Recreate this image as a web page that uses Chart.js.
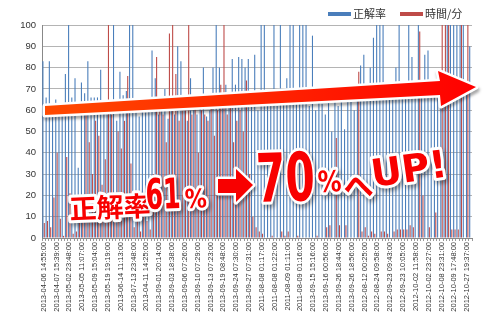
<!DOCTYPE html>
<html>
<head>
<meta charset="utf-8">
<script src="https://cdn.jsdelivr.net/npm/chart.js"></script>
<style>
  html, body { margin: 0; padding: 0; background: #fff; }
</style>
</head>
<body>
<canvas id="chart" width="483" height="325"></canvas>
<script>
// tick labels shown on the x axis (one every 4 categories)
var tickLabels = [
  "2013-04-06 14:55:00", "2013-04-07 15:39:00", "2013-05-02 23:48:00", "2013-05-05 11:07:00",
  "2013-05-09 15:04:00", "2013-05-19 19:19:00", "2013-06-14 11:13:00", "2013-07-13 23:48:00",
  "2013-04-11 14:25:00", "2013-09-01 20:14:00", "2013-09-03 18:38:00", "2013-09-06 07:26:00",
  "2013-09-10 07:29:00", "2013-09-13 07:23:00", "2013-09-19 08:48:00", "2013-09-24 07:30:00",
  "2013-09-27 07:31:00", "2011-08-08 01:17:00", "2011-08-08 01:22:00", "2011-08-09 01:11:00",
  "2011-08-09 01:16:00", "2013-09-15 15:16:00", "2013-09-16 00:56:00", "2013-09-26 18:44:00",
  "2013-09-26 18:56:00", "2012-08-12 00:25:00", "2012-08-24 09:58:00", "2012-09-23 09:43:00",
  "2012-09-23 10:05:00", "2012-10-02 11:58:00", "2012-10-02 23:27:00", "2012-10-08 23:31:00",
  "2012-10-09 17:48:00", "2012-10-27 19:37:00"
];
var labelEvery = 4;

// 正解率
var rate = [
  83, 66, 83, 60, 65, 58, 62, 77, 100, 66, 75, 33, 73, 68, 83, 66, 66, 66, 79, 60,
  58, 62, 100, 55, 78, 67, 69, 100, 100, 60, 57, 62, 59, 61, 88, 75, 58, 60, 70, 56,
  62, 58, 90, 83, 60, 55, 75, 61, 58, 62, 80, 57, 60, 80, 100, 80, 62, 72, 64, 84,
  72, 85, 84, 80, 84, 65, 86, 60, 100, 100, 63, 66, 100, 62, 100, 64, 75, 100, 100, 65,
  100, 100, 100, 62, 95, 60, 66, 63, 58, 65, 50, 64, 62, 66, 51, 64, 67, 60, 65, 81,
  86, 68, 80, 94, 100, 100, 100, 70, 66, 69, 80, 100, 70, 68, 100, 85, 70, 100, 72, 86,
  88, 70, 72, 71, 68, 73, 100, 100, 100, 100, 100, 100, 72, 90
];

// 時間/分
var minutes = [
  7, 8, 5, 19, 40, 9, 1, 38, 21, 2, 3, 7, 15, 62, 45, 30, 55, 48, 25, 37,
  100, 58, 20, 50, 42, 55, 76, 35, 5, 12, 3, 10, 8, 4, 30, 85, 60, 58, 45, 96,
  100, 77, 55, 60, 62, 100, 58, 62, 40, 60, 58, 55, 62, 48, 60, 72, 100, 58, 62, 45,
  55, 60, 50, 74, 30, 10, 5, 3, 2, 0, 0, 1, 0, 0, 3, 1, 3, 0, 0, 1,
  0, 0, 0, 0, 0, 1, 0, 0, 5, 6, 0, 47, 6, 0, 6, 0, 0, 0, 78, 3,
  5, 1, 3, 2, 0, 3, 3, 2, 0, 3, 4, 4, 4, 4, 6, 5, 0, 97, 20, 0,
  5, 0, 12, 0, 100, 100, 100, 4, 4, 4, 100, 0, 100, 0
];

var yTicks = [0, 10, 20, 30, 40, 50, 60, 70, 80, 90, 100];

var categories = rate.map(function (v, i) {
  return i % labelEvery === 0 ? tickLabels[i / labelEvery] : '';
});

function outlined(ctx, text, x, y, font, rot, sx) {
  ctx.save();
  ctx.translate(x, y);
  ctx.rotate(rot * Math.PI / 180);
  ctx.scale(sx || 1, 1);
  ctx.font = font;
  ctx.textBaseline = 'alphabetic';
  ctx.lineJoin = 'round';
  ctx.shadowColor = 'rgba(0,0,0,0.4)';
  ctx.shadowBlur = 4;
  ctx.shadowOffsetX = 2;
  ctx.shadowOffsetY = 3;
  ctx.strokeStyle = '#fff';
  ctx.lineWidth = 6;
  ctx.strokeText(text, 0, 0);
  ctx.shadowColor = 'transparent';
  ctx.fillStyle = '#f80000';
  ctx.fillText(text, 0, 0);
  ctx.restore();
}

function shape(ctx, pts, fill) {
  ctx.save();
  ctx.beginPath();
  ctx.moveTo(pts[0][0], pts[0][1]);
  for (var i = 1; i < pts.length; i++) ctx.lineTo(pts[i][0], pts[i][1]);
  ctx.closePath();
  ctx.lineJoin = 'round';
  ctx.shadowColor = 'rgba(0,0,0,0.35)';
  ctx.shadowBlur = 3;
  ctx.shadowOffsetX = 1;
  ctx.shadowOffsetY = 3;
  ctx.strokeStyle = '#fff';
  ctx.lineWidth = 5;
  ctx.stroke();
  ctx.shadowColor = 'transparent';
  ctx.fillStyle = fill;
  ctx.fill();
  ctx.restore();
}

var overlay = {
  id: 'overlay',
  afterDraw: function (chart) {
    var ctx = chart.ctx;
    // legend
    ctx.save();
    ctx.font = '11px "Noto Sans CJK JP"';
    ctx.textBaseline = 'middle';
    var lx = [328, 400];
    chart.data.datasets.forEach(function (ds, i) {
      ctx.fillStyle = ds.backgroundColor;
      ctx.fillRect(lx[i], 12, 23, 4);
      ctx.fillStyle = '#333';
      ctx.fillText(ds.label, lx[i] + 25, 14);
    });
    ctx.restore();

    // big arrow
    var g = ctx.createLinearGradient(45, 0, 476, 0);
    g.addColorStop(0, '#ff4a00');
    g.addColorStop(1, '#ff0000');
    shape(ctx, [[45, 106], [440, 81], [438, 71], [476, 87], [441, 106], [440, 95], [45, 115]], g);

    // text
    outlined(ctx, '正解率', 70, 219, 'bold 27px "Noto Sans CJK JP"', -2.5);
    outlined(ctx, '61', 146, 209, 'bold 42px "DejaVu Sans"', -2, 0.6);
    outlined(ctx, '%', 185, 208, 'bold 26px "DejaVu Sans"', -2, 0.85);
    shape(ctx, [[218, 179], [236, 179], [236, 169], [253, 185], [236, 202], [236, 193], [218, 193]], '#f80000');
    outlined(ctx, '70', 257, 202, 'bold 67px "DejaVu Sans"', -2, 0.63);
    outlined(ctx, '%', 318, 192, 'bold 29px "DejaVu Sans"', -2, 0.82);
    outlined(ctx, 'へ', 344, 198, 'bold 30px "Noto Sans CJK JP"', -3);
    outlined(ctx, 'UP!', 373, 187, 'bold 38px "DejaVu Sans"', -8);
  }
};

new Chart(document.getElementById('chart'), {
  type: 'bar',
  data: {
    labels: categories,
    datasets: [
      { label: '正解率', data: rate, backgroundColor: '#4a7ebb' },
      { label: '時間/分', data: minutes, backgroundColor: '#be4b48' }
    ]
  },
  options: {
    responsive: false,
    animation: false,
    devicePixelRatio: 1,
    layout: { padding: { left: 0, right: 11, top: 25, bottom: 0 } },
    datasets: { bar: { categoryPercentage: 0.85, barPercentage: 0.8 } },
    plugins: { legend: { display: false }, tooltip: { enabled: false } },
    scales: {
      x: {
        afterFit: function (s) { s.height = 87; },
        grid: { drawOnChartArea: false, drawTicks: true, tickLength: 3, color: '#999' },
        border: { display: true, color: '#888' },
        ticks: {
          autoSkip: false, minRotation: 90, maxRotation: 90, padding: 1,
          color: '#333', font: { family: 'Liberation Sans', size: 7.5 }
        }
      },
      y: {
        min: 0, max: 100,
        afterFit: function (s) { s.width = 42; },
        afterBuildTicks: function (s) { s.ticks = yTicks.map(function (v) { return { value: v }; }); },
        grid: { color: '#b4b4b4', drawTicks: false },
        border: { display: true, color: '#888' },
        ticks: { padding: 6, color: '#333', font: { family: 'Liberation Sans', size: 9.5 } }
      }
    }
  },
  plugins: [overlay]
});
</script>
</body>
</html>
